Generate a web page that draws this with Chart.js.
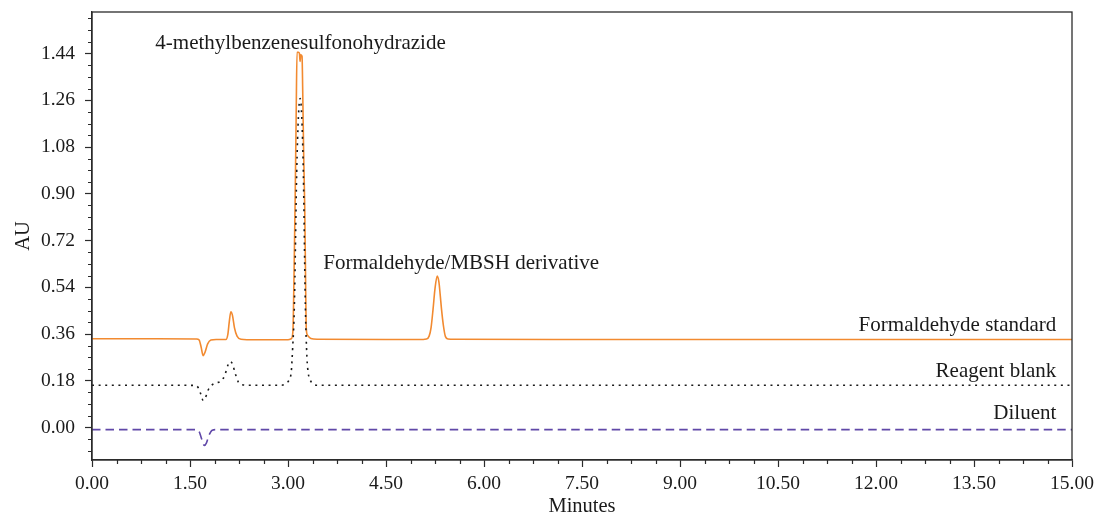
<!DOCTYPE html>
<html>
<head>
<meta charset="utf-8">
<script src="https://cdn.jsdelivr.net/npm/chart.js@4/dist/chart.umd.min.js"></script>
<style>
  html, body { margin: 0; padding: 0; background: #ffffff; }
  #wrap { width: 1097px; height: 514px; }
</style>
</head>
<body>
<div id="wrap"><canvas id="c" width="1097" height="514"></canvas></div>
<script>
// ---------- data ----------
const xTickValues = [0, 1.5, 3, 4.5, 6, 7.5, 9, 10.5, 12, 13.5, 15];
const xTickLabels = ['0.00','1.50','3.00','4.50','6.00','7.50','9.00','10.50','12.00','13.50','15.00'];
const yTickValues = [0, 0.18, 0.36, 0.54, 0.72, 0.90, 1.08, 1.26, 1.44];
const yTickLabels = ['0.00','0.18','0.36','0.54','0.72','0.90','1.08','1.26','1.44'];

const seriesNames = ['Formaldehyde standard', 'Reagent blank', 'Diluent'];

const stdTime = [0, 1.0, 1.6, 1.64, 1.67, 1.70, 1.73, 1.77, 1.82, 1.9, 2.05, 2.08, 2.10, 2.125, 2.15, 2.18, 2.22, 2.28, 2.5,
  3.0, 3.05, 3.075, 3.09, 3.108, 3.125, 3.138, 3.16, 3.175, 3.185, 3.195, 3.215, 3.225, 3.24, 3.256, 3.27, 3.28, 3.3, 3.35, 3.45,
  4.5, 5.0, 5.12, 5.16, 5.19, 5.22, 5.25, 5.284, 5.31, 5.33, 5.35, 5.38, 5.41, 5.45, 5.55, 7.5, 10, 12.5, 15];
const stdAU = [0.342, 0.342, 0.341, 0.337, 0.31, 0.277, 0.29, 0.322, 0.337, 0.339, 0.339, 0.36, 0.405, 0.446, 0.432, 0.385, 0.352, 0.340, 0.338,
  0.338, 0.342, 0.37, 0.55, 0.85, 1.2, 1.445, 1.445, 1.44, 1.41, 1.435, 1.43, 1.3, 1.05, 0.85, 0.55, 0.38, 0.355, 0.343, 0.340,
  0.339, 0.339, 0.341, 0.352, 0.385, 0.455, 0.535, 0.583, 0.56, 0.51, 0.455, 0.39, 0.35, 0.341, 0.340, 0.339, 0.339, 0.339, 0.339];

const blankTime = [0, 1.0, 1.58, 1.63, 1.67, 1.70, 1.73, 1.77, 1.82, 1.9, 1.97, 2.03, 2.08, 2.115, 2.15, 2.19, 2.24, 2.3, 2.4,
  2.9, 2.97, 3.02, 3.05, 3.07, 3.097, 3.133, 3.16, 3.185, 3.21, 3.235, 3.266, 3.29, 3.31, 3.34, 3.38, 3.46, 5, 7.5, 10, 12.5, 15];
const blankAU = [0.163, 0.163, 0.162, 0.152, 0.125, 0.105, 0.11, 0.14, 0.16, 0.172, 0.178, 0.2, 0.24, 0.254, 0.245, 0.21, 0.175, 0.165, 0.163,
  0.163, 0.17, 0.185, 0.215, 0.3, 0.465, 0.98, 1.2, 1.267, 1.2, 0.98, 0.465, 0.27, 0.21, 0.183, 0.168, 0.163, 0.163, 0.163, 0.163, 0.163, 0.163];

const dilTime = [0, 1.0, 1.6, 1.64, 1.68, 1.72, 1.75, 1.79, 1.84, 1.9, 5, 10, 15];
const dilAU = [-0.008, -0.008, -0.008, -0.015, -0.045, -0.069, -0.06, -0.03, -0.01, -0.008, -0.008, -0.008, -0.008];

const peakLabels = ['4-methylbenzenesulfonohydrazide', 'Formaldehyde/MBSH derivative'];

// ---------- helpers ----------
const toPoints = (xs, ys) => xs.map((x, i) => ({ x: x, y: ys[i] }));
const AXIS_COLOR = '#2b2b2b';
const FONT = "'Liberation Serif', 'Times New Roman', serif";

const framePlugin = {
  id: 'frame',
  afterDraw(chart) {
    const { ctx, chartArea: a, scales: { x, y } } = chart;
    ctx.save();
    ctx.strokeStyle = AXIS_COLOR;
    ctx.lineWidth = 1.3;
    ctx.strokeRect(a.left, a.top, a.right - a.left, a.bottom - a.top);
    // minor ticks
    ctx.lineWidth = 1.2;
    ctx.beginPath();
    for (let i = 0; i <= 40; i++) {
      if (i % 4 === 0) continue;
      const px = Math.round(x.getPixelForValue(i * 0.375)) + 0.5;
      ctx.moveTo(px, a.bottom); ctx.lineTo(px, a.bottom + 4);
    }
    for (let i = -2; i <= 35; i++) {
      if (i % 4 === 0) continue;
      const v = i * 0.045;
      if (v < y.min || v > y.max) continue;
      const py = Math.round(y.getPixelForValue(v)) + 0.5;
      ctx.moveTo(a.left, py); ctx.lineTo(a.left - 4, py);
    }
    ctx.stroke();
    ctx.restore();
  }
};

const labelPlugin = {
  id: 'labels',
  afterDatasetsDraw(chart) {
    const { ctx, scales: { x, y } } = chart;
    ctx.save();
    ctx.fillStyle = '#1a1a1a';
    ctx.font = "21px " + FONT;
    ctx.textBaseline = 'alphabetic';
    ctx.textAlign = 'left';
    ctx.fillText(peakLabels[0], x.getPixelForValue(0.97), y.getPixelForValue(1.457));
    ctx.fillText(peakLabels[1], x.getPixelForValue(3.54), y.getPixelForValue(0.611));
    ctx.textAlign = 'right';
    ctx.fillText(seriesNames[0], x.getPixelForValue(14.76), y.getPixelForValue(0.373));
    ctx.fillText(seriesNames[1], x.getPixelForValue(14.76), y.getPixelForValue(0.196));
    ctx.fillText(seriesNames[2], x.getPixelForValue(14.76), y.getPixelForValue(0.031));
    ctx.restore();
  }
};

new Chart(document.getElementById('c'), {
  type: 'line',
  data: {
    datasets: [
      {
        label: seriesNames[1],
        data: toPoints(blankTime, blankAU),
        borderColor: '#1a1a1a',
        borderWidth: 1.6,
        borderDash: [2, 4.6],
        pointRadius: 0,
        cubicInterpolationMode: 'monotone',
        order: 0
      },
      {
        label: seriesNames[0],
        data: toPoints(stdTime, stdAU),
        borderColor: '#f28a30',
        borderWidth: 1.6,
        pointRadius: 0,
        cubicInterpolationMode: 'monotone',
        order: 1
      },
      {
        label: seriesNames[2],
        data: toPoints(dilTime, dilAU),
        borderColor: '#6048a8',
        borderWidth: 1.6,
        borderDash: [8.5, 5],
        pointRadius: 0,
        cubicInterpolationMode: 'monotone',
        order: 2
      }
    ]
  },
  options: {
    responsive: false,
    animation: false,
    events: [],
    layout: { padding: { top: 12, right: 25, left: 0, bottom: 0 } },
    plugins: { legend: { display: false }, tooltip: { enabled: false } },
    scales: {
      x: {
        type: 'linear',
        min: 0,
        max: 15,
        afterFit(scale) { scale.height = 54; scale.paddingLeft = 0; scale.paddingRight = 0; },
        afterBuildTicks(scale) { scale.ticks = xTickValues.map(v => ({ value: v })); },
        ticks: {
          autoSkip: false,
          maxRotation: 0,
          padding: 5,
          color: '#1a1a1a',
          font: { family: FONT, size: 19.5 },
          callback: (v) => xTickLabels[xTickValues.indexOf(v)]
        },
        grid: { drawOnChartArea: false, drawTicks: true, tickLength: 7, tickColor: AXIS_COLOR, tickWidth: 1.2 },
        border: { display: true, color: AXIS_COLOR, width: 1.3 },
        title: {
          display: true,
          text: 'Minutes',
          color: '#1a1a1a',
          font: { family: FONT, size: 20.5, lineHeight: 0.7 },
          padding: { top: 0, bottom: 0 }
        }
      },
      y: {
        type: 'linear',
        min: -0.125,
        max: 1.6,
        afterFit(scale) { scale.width = 92; scale.paddingTop = 0; scale.paddingBottom = 0; },
        afterBuildTicks(scale) { scale.ticks = yTickValues.map(v => ({ value: v })); },
        ticks: {
          autoSkip: false,
          padding: 10,
          color: '#1a1a1a',
          font: { family: FONT, size: 19.5 },
          callback: (v) => yTickLabels[yTickValues.indexOf(v)]
        },
        grid: { drawOnChartArea: false, drawTicks: true, tickLength: 7, tickColor: AXIS_COLOR, tickWidth: 1.2 },
        border: { display: true, color: AXIS_COLOR, width: 1.3 },
        title: {
          display: true,
          text: 'AU',
          color: '#1a1a1a',
          font: { family: FONT, size: 20.5 },
          padding: { top: 11, bottom: 0 }
        }
      }
    }
  },
  plugins: [framePlugin, labelPlugin]
});
</script>
</body>
</html>
